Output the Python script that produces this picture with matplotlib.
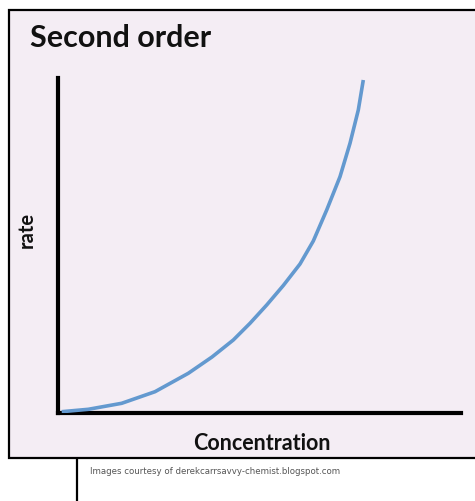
import matplotlib.pyplot as plt
from matplotlib.patches import Rectangle
from matplotlib.lines import Line2D

# curve (arbitrary units)
concentration = [3.7, 30.3, 63.7, 97, 130.3, 154, 175.3, 192, 208.7, 225.3, 242,
                 255.3, 268.7, 282, 292, 300.3, 305.3]
rate = [1.3, 3.7, 9.7, 21.3, 39.7, 56, 73, 89.7, 108, 127.5, 149,
        172, 203, 236.3, 269.7, 303, 333]

title = "Second order"
xlabel = "Concentration"
ylabel = "rate"
caption = "Images courtesy of derekcarrsavvy-chemist.blogspot.com"

bg = '#f4edf4'
W, H = 475, 501

fig = plt.figure(figsize=(W / 100, H / 100), dpi=100)
fig.patch.set_facecolor('white')

# outer framed panel, kept behind the axes
box = Rectangle((9 / W, 1 - 458 / H), 1.0, (458 - 10) / H, transform=fig.transFigure,
                facecolor=bg, edgecolor='black', linewidth=1.6, zorder=-10)
fig.patches.append(box)
fig.lines.append(Line2D([77 / W, 77 / W], [0, 1 - 458 / H], transform=fig.transFigure,
                        color='black', linewidth=1.6, zorder=-10))

ax = fig.add_axes([58 / W, 1 - 413 / H, (461 - 58) / W, (413 - 78) / H])
ax.set_facecolor('none')
ax.plot(concentration, rate, color='#6399cf', linewidth=2.6, solid_capstyle='butt',
        solid_joinstyle='round', zorder=3)
ax.set_xlim(0, 403)
ax.set_ylim(0, 335)
ax.spines['top'].set_visible(False)
ax.spines['right'].set_visible(False)
ax.spines['left'].set_linewidth(3)
ax.spines['bottom'].set_linewidth(3)
ax.set_xticks([])
ax.set_yticks([])

fig.text(30 / W, 1 - 38 / H, title, fontsize=22, fontweight='bold', family='Lato',
         ha='left', va='center', color='#111111')
fig.text(262 / W, 1 - 443 / H, xlabel, fontsize=15.5, fontweight='bold', family='Lato',
         ha='center', va='center', color='#111111')
fig.text(27 / W, 1 - 230 / H, ylabel, fontsize=14.5, fontweight='bold', family='Lato',
         rotation=90, ha='center', va='center', color='#111111')
fig.text(90 / W, 1 - 471 / H, caption, fontsize=6.2, ha='left', va='center', color='#555555')

fig.savefig('out.png', dpi=100, facecolor=fig.get_facecolor())
